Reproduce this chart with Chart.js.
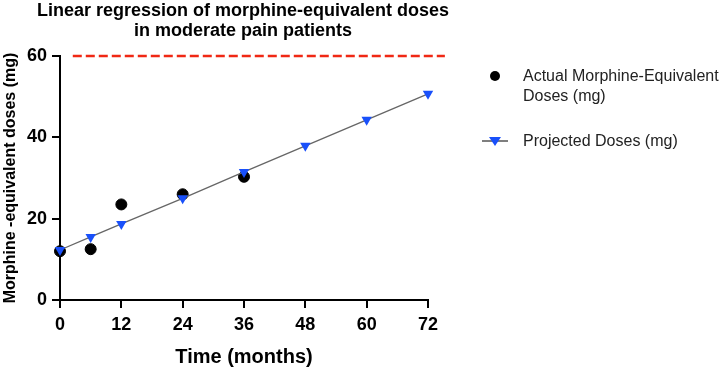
<!DOCTYPE html>
<html>
<head>
<meta charset="utf-8">
<script src="https://cdn.jsdelivr.net/npm/chart.js@4"></script>
<style>
  body { margin: 0; background: #fff; }
  #wrap { width: 726px; height: 369px; }
</style>
</head>
<body>
<div id="wrap"><canvas id="regression-chart"></canvas></div>
<script>
const actualMonths = [0, 6, 12, 24, 36]
const actualDoses = [12, 12.5, 23.5, 26, 30.3]

const projectedMonths = [0, 6, 12, 24, 36, 48, 60, 72]
const projectedDoses = [12.3, 15.5, 18.7, 25, 31.5, 37.9, 44.3, 50.7]

const limitMonths = [2.5, 75.3]
const limitDose = 60

const xTicks = [0, 12, 24, 36, 48, 60, 72]
const yTicks = [0, 20, 40, 60]

const titleLines = ['Linear regression of morphine-equivalent doses', 'in moderate pain patients']
const actualLabel = ['Actual Morphine-Equivalent', 'Doses (mg)']
const projectedLabel = 'Projected Doses (mg)'

const blue = 'rgb(25, 80, 250)'
const fontFamily = '"Liberation Sans", Arial'

const toPoints = (xs, ys) => xs.map((x, i) => ({ x, y: ys[i] }))

const titlePlugin = {
  id: 'titlePlugin',
  afterDraw(chart) {
    const { ctx } = chart
    ctx.save()
    ctx.font = `bold 18px ${fontFamily}`
    ctx.fillStyle = '#000'
    ctx.textAlign = 'center'
    ctx.textBaseline = 'middle'
    ctx.fillText(titleLines[0], 243, 11)
    ctx.fillText(titleLines[1], 243, 31)
    ctx.restore()
  }
}

const legendPlugin = {
  id: 'legendPlugin',
  afterDraw(chart) {
    const { ctx } = chart
    ctx.save()
    ctx.fillStyle = '#000'
    ctx.beginPath()
    ctx.arc(495, 76, 5, 0, Math.PI * 2)
    ctx.fill()

    ctx.strokeStyle = '#555'
    ctx.lineWidth = 1.5
    ctx.beginPath()
    ctx.moveTo(482, 141)
    ctx.lineTo(508, 141)
    ctx.stroke()
    ctx.fillStyle = blue
    ctx.beginPath()
    ctx.moveTo(489, 137)
    ctx.lineTo(501, 137)
    ctx.lineTo(495, 146)
    ctx.closePath()
    ctx.fill()

    ctx.font = `16px ${fontFamily}`
    ctx.fillStyle = '#222'
    ctx.textAlign = 'left'
    ctx.textBaseline = 'middle'
    ctx.fillText(actualLabel[0], 523, 77)
    ctx.fillText(actualLabel[1], 523, 97)
    ctx.fillText(projectedLabel, 523, 142)
    ctx.restore()
  }
}

const ctxEl = document.getElementById('regression-chart')

const regressionChart = new Chart(ctxEl, {
  type: 'scatter',
  data: {
    datasets: [
      {
        label: 'Limit',
        data: toPoints(limitMonths, [limitDose, limitDose]),
        showLine: true,
        borderColor: 'rgb(240, 40, 20)',
        borderWidth: 2.5,
        borderDash: [9, 4],
        pointRadius: 0,
        clip: false
      },
      {
        label: projectedLabel,
        data: toPoints(projectedMonths, projectedDoses),
        showLine: true,
        borderColor: '#666',
        borderWidth: 1.3,
        pointStyle: 'triangle',
        rotation: 180,
        pointRadius: 6,
        pointBackgroundColor: blue,
        pointBorderColor: blue,
        pointBorderWidth: 0,
        clip: false
      },
      {
        label: actualLabel.join(' '),
        data: toPoints(actualMonths, actualDoses),
        pointRadius: 5.5,
        pointBackgroundColor: '#000',
        pointBorderColor: '#000',
        clip: false
      }
    ]
  },
  options: {
    responsive: true,
    maintainAspectRatio: false,
    animation: false,
    layout: {
      padding: { top: 56, right: 298, left: 0, bottom: 0 }
    },
    scales: {
      x: {
        type: 'linear',
        min: 0,
        max: 72,
        afterBuildTicks: (axis) => { axis.ticks = xTicks.map(v => ({ value: v })) },
        afterFit: (axis) => { axis.height = 69 },
        grid: { drawOnChartArea: false, drawTicks: true, tickLength: 8, color: '#000', lineWidth: 2 },
        border: { color: '#000', width: 2 },
        ticks: { color: '#000', padding: 6, font: { family: fontFamily, size: 18, weight: 'bold' } },
        title: {
          display: true,
          text: 'Time (months)',
          color: '#000',
          padding: { top: 4, bottom: 0 },
          font: { family: fontFamily, size: 20, weight: 'bold' }
        }
      },
      y: {
        min: 0,
        max: 60,
        afterBuildTicks: (axis) => { axis.ticks = yTicks.map(v => ({ value: v })) },
        afterFit: (axis) => { axis.width = 60 },
        grid: { drawOnChartArea: false, drawTicks: true, tickLength: 8, color: '#000', lineWidth: 2 },
        border: { color: '#000', width: 2 },
        ticks: { color: '#000', padding: 5, font: { family: fontFamily, size: 18, weight: 'bold' } },
        title: {
          display: true,
          text: 'Morphine -equivalent doses (mg)',
          color: '#000',
          padding: { top: 1, bottom: 0 },
          font: { family: fontFamily, size: 16, weight: 'bold' }
        }
      }
    },
    plugins: {
      legend: { display: false },
      tooltip: { enabled: false }
    }
  },
  plugins: [titlePlugin, legendPlugin]
})
</script>
</body>
</html>
